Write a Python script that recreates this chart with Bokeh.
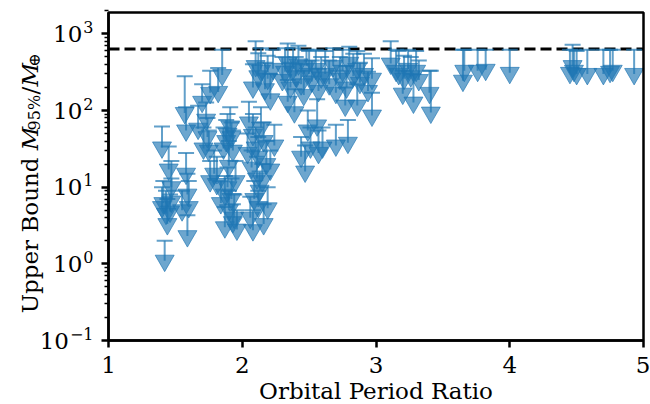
import math
from bokeh.plotting import figure
from bokeh.models import (Label, FixedTicker, CustomJSTickFormatter, ColumnDataSource,
                          LinearAxis, LogAxis, Range1d, BoxAnnotation)
from bokeh.embed import file_html
from bokeh.resources import INLINE

# ---- data ----
period_ratio = [
    1.40, 1.42, 1.40, 1.41, 1.43, 1.44, 1.45, 1.47, 1.47, 1.46, 1.57, 1.58, 1.58, 1.59, 1.59, 1.55, 1.60,
    1.67, 1.70, 1.73, 1.71, 1.76, 1.74, 1.75, 1.76, 1.81, 1.79, 1.82, 1.85,
    1.84, 1.87, 1.86, 1.88, 1.90, 1.89, 1.91, 1.92, 1.93, 1.87, 1.89, 1.90, 1.92, 1.94, 1.96, 1.95, 1.93,
    2.10, 2.12, 2.14, 2.17, 2.19, 2.21, 2.23, 2.08, 2.05, 2.08, 2.10, 2.12, 2.14, 2.16, 2.18, 2.21, 2.11,
    2.13, 2.07, 2.04, 2.15, 2.09, 2.06, 2.08, 2.19, 2.12, 2.16, 2.24,
    2.30, 2.32, 2.34, 2.36, 2.38, 2.40, 2.42, 2.44, 2.46, 2.48, 2.50, 2.52, 2.55, 2.57, 2.59, 2.34, 2.39,
    2.49, 2.56, 2.47, 2.57, 2.51, 2.44,
    2.62, 2.65, 2.68, 2.70, 2.73, 2.75, 2.78, 2.80, 2.83, 2.86, 2.88, 2.91, 2.94, 2.97, 2.97, 2.86, 2.77,
    2.79, 2.70, 2.60,
    3.11, 3.15, 3.17, 3.20, 3.21, 3.24, 3.26, 3.28, 3.30, 3.32, 3.40, 3.41,
    3.65, 3.66, 3.76, 3.82, 4.00, 4.45, 4.47, 4.48, 4.50, 4.58, 4.70, 4.75, 4.77, 4.93,
]
mass_upper = [
    33, 1.1, 5.5, 6.2, 4.5, 3.3, 17, 10, 6.5, 4.8, 93, 55, 15, 8, 2.3, 5, 5.5,
    58, 130, 76, 32, 170, 45, 30, 12, 11, 15, 175, 290,
    6.2, 3.0, 32, 40, 19, 50, 62, 45, 30, 8, 10, 5, 7, 4, 2.8, 12, 3.5,
    380, 280, 330, 190, 260, 140, 350, 200, 70, 48, 33, 25, 60, 40, 20, 17, 13,
    9, 18, 28, 12, 7, 4, 2.75, 5.3, 5.5, 3.3, 35,
    250, 320, 420, 200, 350, 280, 400, 220, 160, 380, 300, 240, 350, 180, 270, 130, 95,
    55, 64, 16, 28, 33, 25,
    300, 220, 380, 170, 260, 330, 200, 420, 280, 350, 230, 300, 180, 260, 86, 116, 116,
    38, 35, 33,
    410, 330, 300, 166, 260, 350, 280, 127, 330, 250, 170, 94,
    245, 330, 330, 340, 310, 310, 380, 330, 300, 300, 300, 320, 330, 300,
]
mass_cap = [
    62, 2.0, 10, 12, 9, 7, 34, 22, 13, 8, 280, 110, 28, 15, 4.3, 9, 12,
    115, 220, 127, 60, 330, 80, 55, 22, 25, 30, 360, 620,
    12, 5.5, 60, 75, 40, 90, 110, 70, 55, 14, 18, 9, 13, 8, 5, 22, 6,
    800, 560, 650, 420, 520, 300, 620, 400, 130, 90, 60, 45, 110, 70, 40, 30, 25,
    16, 30, 50, 20, 12, 7.5, 5, 10, 9, 6, 65,
    500, 650, 750, 420, 650, 500, 700, 400, 330, 620, 600, 450, 620, 350, 500, 250, 190,
    100, 140, 35, 55, 60, 45,
    600, 450, 650, 330, 500, 620, 380, 680, 550, 600, 420, 550, 320, 480, 170, 220, 200,
    75, 65, 60,
    800, 620, 600, 330, 520, 620, 500, 300, 600, 450, 330, 330,
    620, 620, 620, 620, 620, 620, 720, 620, 600, 620, 620, 620, 620, 620,
]
limit_mass = 636  # dashed reference level

x_ticks = [1, 2, 3, 4, 5]
y_tick_exponents = [-1, 0, 1, 2, 3]
x_label = "Orbital Period Ratio"
y_label_plain = "Upper Bound "

FONT = "DejaVu Serif"
FS = 23
SUB = 16
BLUE = "#1f77b4"

W, H = 650, 404
FL, FR, FT, FB = 108, 643, 12, 340          # visible axes box, page pixels
XMIN, XMAX, YMIN, YMAX = 1.0, 5.0, 0.1, 1900.0
LY0, LY1 = math.log10(YMIN), math.log10(YMAX)
XPX = (FR - FL) / (XMAX - XMIN)
YPX = (FB - FT) / (LY1 - LY0)


def px_to_x(px):
    return XMIN + (px - FL) / XPX


def py_to_y(py):
    return 10 ** (LY1 - (py - FT) / YPX)


src = ColumnDataSource(dict(x=period_ratio, y=mass_upper, cap=mass_cap))

# the plotting frame spans the whole page; the visible axes box sits inside it
p = figure(width=W, height=H,
           x_range=Range1d(px_to_x(0), px_to_x(W)), y_range=Range1d(py_to_y(H), py_to_y(0)),
           y_axis_type="log", x_axis_location=None, y_axis_location=None,
           output_backend="svg", toolbar_location=None,
           min_border_left=0, min_border_right=0, min_border_top=0, min_border_bottom=0)
p.grid.visible = False
p.outline_line_color = None
p.background_fill_color = "white"
p.border_fill_color = "white"

minor = [10.0 ** e * m for e in y_tick_exponents for m in range(2, 10)]
xaxis = LinearAxis(fixed_location=YMIN, bounds=(XMIN, XMAX),
                   ticker=FixedTicker(ticks=x_ticks, minor_ticks=[]), axis_label=x_label)
yaxis = LogAxis(fixed_location=XMIN, bounds=(YMIN, YMAX),
                ticker=FixedTicker(ticks=[10.0 ** e for e in y_tick_exponents], minor_ticks=minor),
                formatter=CustomJSTickFormatter(code="return '';"))
for ax in (xaxis, yaxis):
    ax.axis_line_width = 2.5
    ax.axis_line_color = "black"
    ax.major_tick_line_width = 2.5
    ax.major_tick_out = 7
    ax.major_tick_in = 0
    ax.minor_tick_line_width = 1.5
    ax.minor_tick_out = 4
    ax.minor_tick_in = 0
    ax.major_label_text_font = FONT
    ax.major_label_text_font_size = f"{FS}px"
    ax.major_label_text_color = "black"
    ax.axis_label_text_font = FONT
    ax.axis_label_text_font_size = f"{FS}px"
    ax.axis_label_text_font_style = "normal"
    ax.axis_label_text_color = "black"
xaxis.major_label_standoff = 9
xaxis.axis_label_standoff = 2
yaxis.major_label_standoff = 0
p.add_layout(xaxis, "below")
p.add_layout(yaxis, "left")

# axes box
p.add_layout(BoxAnnotation(left=XMIN, right=XMAX, bottom=YMIN, top=YMAX, fill_alpha=0,
                           line_color="black", line_alpha=1.0, line_width=2.5))

# dashed reference level across the axes
p.line(x=[XMIN, XMAX], y=[limit_mass, limit_mass], line_color="black", line_width=3, line_dash="11 5")

# upper-limit bars, caps and triangles
p.segment(x0="x", y0="y", x1="x", y1="cap", source=src, line_color=BLUE, line_width=2, line_alpha=0.7)
p.scatter(x="x", y="cap", source=src, marker="dash", size=16, line_color=BLUE, line_width=2, line_alpha=0.7)
p.scatter(x="x", y="y", source=src, marker="inverted_triangle", size=19,
          fill_color=BLUE, fill_alpha=0.65, line_color=BLUE, line_alpha=0.65, line_width=1)


def add_text(text, px, y, size=FS, align="left", baseline="alphabetic", angle=0.0,
             style="normal", dy=0):
    p.add_layout(Label(x=px_to_x(px), y=y, y_offset=dy, text=text, text_align=align,
                       text_baseline=baseline, angle=angle, text_font=FONT,
                       text_font_size=f"{size}px", text_font_style=style, text_color="black"))


# y tick labels: "10" with a raised exponent
SUPW = 0.636 * SUB
MINUSW = 0.838 * SUB
RIGHT = 93
for e in y_tick_exponents:
    es = str(e).replace("-", "\u2212")
    ew = sum(MINUSW if c == "\u2212" else SUPW for c in es)
    add_text(es, RIGHT, 10.0 ** e, size=SUB, align="right", baseline="middle", dy=7)
    add_text("10", RIGHT - ew - 1, 10.0 ** e, align="right", baseline="middle")

# y axis label, built from pieces and read upward
ang = math.pi / 2
bx = 29                      # baseline x in pixels
start = 310                  # page y where the label begins (bottom)
pivot = start - 6.97 * FS    # page y where "Upper Bound " ends
add_text(y_label_plain, bx, py_to_y(pivot), align="right", angle=ang)
pos = pivot
add_text("M", bx, py_to_y(pos), angle=ang, style="italic")
pos -= FS * 0.86
add_text("95%", bx + FS * 0.2, py_to_y(pos), size=SUB, angle=ang)
pos -= SUB * 2.25
add_text("/", bx, py_to_y(pos), angle=ang)
pos -= FS * 0.34
add_text("M", bx, py_to_y(pos), angle=ang, style="italic")
pos -= FS * 0.86
add_text("\u2295", bx + FS * 0.2, py_to_y(pos), size=SUB, angle=ang)

open("out.html", "w").write(file_html(p, INLINE))
